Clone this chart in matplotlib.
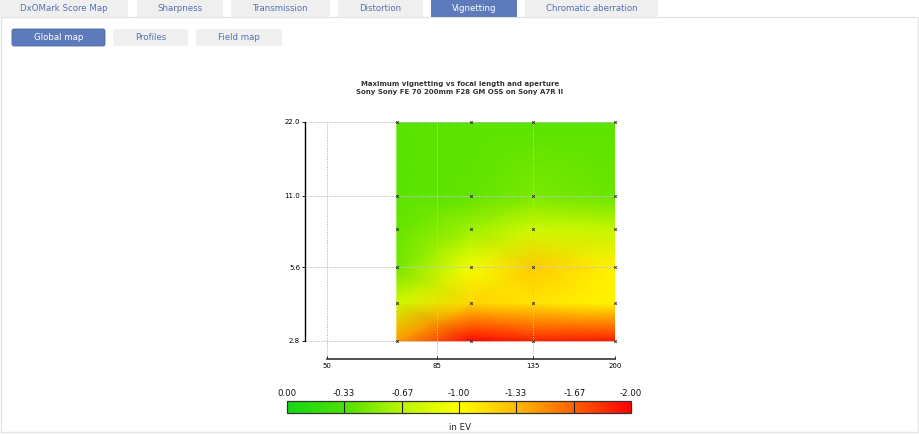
import numpy as np
import matplotlib
matplotlib.use("Agg")
import matplotlib.pyplot as plt
from matplotlib.colors import LinearSegmentedColormap, Normalize
from matplotlib.patches import Rectangle, FancyBboxPatch
from matplotlib.cm import ScalarMappable
from matplotlib.ticker import NullLocator

# data (EV, negative = darker corners)
focal = [70, 100, 135, 200]
aperture = [2.8, 4.0, 5.6, 8.0, 11.0, 22.0]
vignetting = [
    [-1.45, -1.97, -1.88, -1.90],   # f/2.8
    [-0.76, -1.20, -1.14, -1.04],   # f/4
    [-0.45, -0.95, -1.25, -1.07],   # f/5.6
    [-0.41, -0.58, -0.76, -0.72],   # f/8
    [-0.38, -0.40, -0.47, -0.42],   # f/11
    [-0.38, -0.38, -0.38, -0.38],   # f/22
]
x_ticks = [50, 85, 135, 200]
x_labels = ["50", "85", "135", "200"]
y_ticks = [2.8, 5.6, 11.0, 22.0]
y_labels = ["2.8", "5.6", "11.0", "22.0"]
cb_ticks = [0.00, -0.33, -0.67, -1.00, -1.33, -1.67, -2.00]
cb_labels = ["0.00", "-0.33", "-0.67", "-1.00", "-1.33", "-1.67", "-2.00"]
tabs = ["DxOMark Score Map", "Sharpness", "Transmission", "Distortion",
        "Vignetting", "Chromatic aberration"]
buttons = ["Global map", "Profiles", "Field map"]
title = ("Maximum vignetting vs focal length and aperture\n"
         "Sony Sony FE 70 200mm F28 GM OSS on Sony A7R II")

W, H = 920, 434
blue = "#5d7aba"
grey_tab = "#efefef"
link = "#5273b2"

fig = plt.figure(figsize=(W / 100, H / 100), dpi=100)

# page furniture in pixel coords
page = fig.add_axes([0, 0, 1, 1])
page.set_xlim(0, W)
page.set_ylim(H, 0)
page.axis("off")

page.add_patch(Rectangle((0.5, 17), W - 2.5, 415, fill=False,
                         edgecolor="#e3e3e3", lw=1))

tab_x = [(0, 128), (137, 223), (231, 330), (338, 423), (431, 517), (525, 658)]
for name, (x0, x1) in zip(tabs, tab_x):
    active = name == "Vignetting"
    page.add_patch(Rectangle((x0, 0), x1 - x0, 17,
                             facecolor=blue if active else grey_tab,
                             edgecolor="none"))
    page.text((x0 + x1) / 2, 8.5, name, ha="center", va="center",
              fontsize=6.2, color="white" if active else link)

btn_x = [(12, 105), (113, 188), (196, 282)]
for name, (x0, x1) in zip(buttons, btn_x):
    active = name == "Global map"
    page.add_patch(FancyBboxPatch((x0 + 1.5, 30.5), x1 - x0 - 3, 14,
                                  boxstyle="round,pad=1.5,rounding_size=2",
                                  facecolor=blue if active else grey_tab,
                                  edgecolor="#4a67a6" if active else "none",
                                  lw=0.6))
    page.text((x0 + x1) / 2, 37.5, name, ha="center", va="center",
              fontsize=6.2, color="white" if active else link)

page.text(460, 88, title, ha="center", va="center", fontsize=5.0,
          fontweight="bold", color="#333333", linespacing=1.55)
page.text(460, 427, "in EV", ha="center", va="center", fontsize=6.2,
          color="#222222")

# colour scale: red (-2 EV) .. yellow (-1 EV) .. green (0 EV)
cmap = LinearSegmentedColormap.from_list("vign", [
    (0.0, (1.00, 0.00, 0.00)),
    (1 / 6, (1.00, 0.38, 0.00)),
    (2 / 6, (1.00, 0.73, 0.00)),
    (3 / 6, (1.00, 1.00, 0.00)),
    (4 / 6, (0.73, 0.96, 0.00)),
    (5 / 6, (0.30, 0.88, 0.00)),
    (1.0, (0.08, 0.84, 0.08)),
])
norm = Normalize(vmin=-2.0, vmax=0.0)

# map
ax = fig.add_axes([305 / W, (H - 359) / H, 310 / W, 237 / H])
ax.set_xscale("log")
ax.set_yscale("log")
ax.pcolormesh(focal, aperture, np.array(vignetting), shading="gouraud",
              cmap=cmap, norm=norm, zorder=0.5)
F, A = np.meshgrid(focal, aperture)
ax.plot(F.ravel(), A.ravel(), "x", color="#333333", ms=1.8, mew=0.7,
        clip_on=False, zorder=3)
ax.set_xlim(45, 200)
ax.set_ylim(2.363, 22)
ax.xaxis.set_minor_locator(NullLocator())
ax.yaxis.set_minor_locator(NullLocator())
ax.set_xticks(x_ticks, x_labels)
ax.set_yticks(y_ticks, y_labels)
ax.tick_params(labelsize=5, length=2, width=0.6, pad=1.5, colors="black")
ax.tick_params(axis="x", direction="in", pad=3)
ax.grid(True, color="#c4c4c4", lw=0.7, ls=(0, (1.5, 1.2)))
for s in ("top", "right"):
    ax.spines[s].set_visible(False)
ax.spines["left"].set_bounds(2.8, 22)
ax.spines["bottom"].set_bounds(50, 200)
ax.spines["left"].set_linewidth(1)
ax.spines["bottom"].set_linewidth(1.2)
ax.spines["bottom"].set_color("#333333")
ax.patch.set_alpha(0)

# colour bar
cax = fig.add_axes([287 / W, (H - 413) / H, 344 / W, 12 / H])
cb = fig.colorbar(ScalarMappable(norm=norm, cmap=cmap), cax=cax,
                  orientation="horizontal")
cax.invert_xaxis()
cb.set_ticks(cb_ticks)
cb.set_ticklabels(cb_labels)
cax.xaxis.set_ticks_position("top")
cax.tick_params(length=0, labelsize=6.2, pad=2, colors="#111111")
cax.xaxis.set_minor_locator(NullLocator())
for t in cb_ticks[1:-1]:
    cax.axvline(t, color="#222222", lw=0.8)
cb.outline.set_linewidth(0.9)
cb.outline.set_edgecolor("#333333")

fig.savefig("out.png", dpi=100)
